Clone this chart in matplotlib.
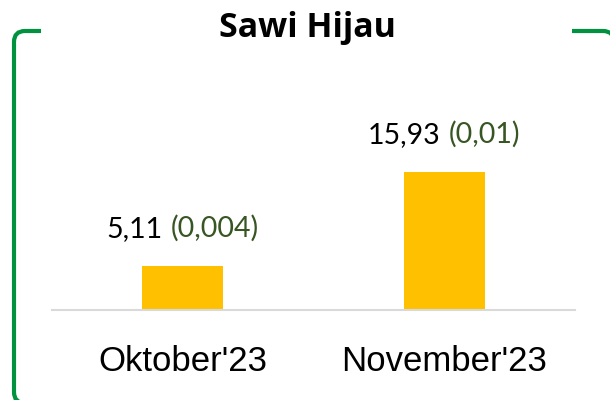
import matplotlib
matplotlib.use("Agg")
import matplotlib.pyplot as plt
from matplotlib.path import Path
from matplotlib.patches import PathPatch
from matplotlib.offsetbox import TextArea, HPacker, AnnotationBbox

# data
categories = ["Oktober'23", "November'23"]
values = [5.11, 15.93]
value_labels = ["5,11", "15,93"]
change_labels = ["(0,004)", "(0,01)"]

BAR = "#FFC000"
GREEN_TXT = "#375623"
FRAME = "#00923F"
AXLINE = "#D9D9D9"

W, H = 610, 400
fig = plt.figure(figsize=(W / 100, H / 100), dpi=100)
fig.patch.set_facecolor("white")

# frame (pixel coords) - left part and the small top-right piece
bg = fig.add_axes([0, 0, 1, 1])
bg.set_xlim(0, W)
bg.set_ylim(H, 0)
bg.axis("off")
L, T, B, r = 14, 31, 403, 11
left = Path([(41, T), (L + r, T), (L, T), (L, T + r), (L, B - r), (L, B), (L + r, B), (W + 10, B)],
            [Path.MOVETO, Path.LINETO, Path.CURVE3, Path.CURVE3, Path.LINETO,
             Path.CURVE3, Path.CURVE3, Path.LINETO])
R = 614
right = Path([(572, T), (R - r, T), (R, T), (R, T + r), (R, T + 40)],
             [Path.MOVETO, Path.LINETO, Path.CURVE3, Path.CURVE3, Path.LINETO])
for p in (left, right):
    bg.add_patch(PathPatch(p, facecolor="none", edgecolor=FRAME, lw=3, capstyle="butt"))

fig.text(307.5 / W, 1 - 37 / H, "Sawi Hijau", ha="center", va="baseline",
         fontsize=24.5, fontweight="bold", family="Open Sans")

# main chart
ax = fig.add_axes([52 / W, 1 - 310 / H, 523 / W, 210 / H])
ax.patch.set_alpha(0)
x = range(len(categories))
ax.bar(x, values, width=0.31, color=BAR, zorder=2)
ax.set_xlim(-0.5, 1.5)
ax.set_ylim(0, 24.25)
for s in ["top", "right", "left"]:
    ax.spines[s].set_visible(False)
ax.spines["bottom"].set_color(AXLINE)
ax.spines["bottom"].set_linewidth(1.5)
ax.set_yticks([])
ax.set_xticks(list(x))
ax.set_xticklabels(categories, family="Liberation Sans", fontsize=25)
ax.tick_params(axis="x", length=0, pad=25)

for i, v in enumerate(values):
    t1 = TextArea(value_labels[i], textprops=dict(color="black", fontsize=20.5, family="Lato"))
    t2 = TextArea(change_labels[i], textprops=dict(color=GREEN_TXT, fontsize=20.5, family="Lato"))
    box = HPacker(children=[t1, t2], sep=6, pad=0, align="baseline")
    ab = AnnotationBbox(box, (i, v), xybox=(0, 27), boxcoords="offset points",
                        frameon=False, box_alignment=(0.5, 0.5))
    ax.add_artist(ab)

fig.savefig("out.png", dpi=100)
